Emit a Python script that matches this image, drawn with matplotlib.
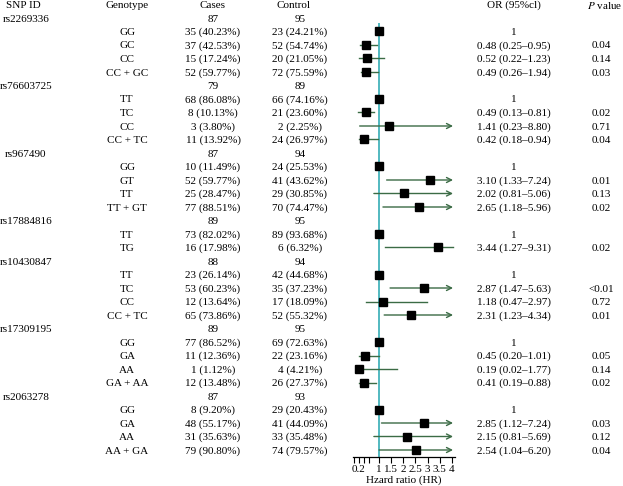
"""Forest plot of SNP genotype odds ratios with the case/control table beside it."""

import matplotlib

matplotlib.use("Agg")
import matplotlib.pyplot as plt
from matplotlib.transforms import blended_transform_factory

# --- data, one inner list per SNP -------------------------------------------
snp_ids = ["rs2269336", "rs76603725", "rs967490", "rs17884816",
           "rs10430847", "rs17309195", "rs2063278"]
snp_cases_total = [87, 79, 87, 89, 88, 89, 87]
snp_control_total = [95, 89, 94, 95, 94, 95, 93]

genotypes = [
    ["GG", "GC", "CC", "CC + GC"],
    ["TT", "TC", "CC", "CC + TC"],
    ["GG", "GT", "TT", "TT + GT"],
    ["TT", "TG"],
    ["TT", "TC", "CC", "CC + TC"],
    ["GG", "GA", "AA", "GA + AA"],
    ["GG", "GA", "AA", "AA + GA"],
]
case_counts = [[35, 37, 15, 52], [68, 8, 3, 11], [10, 52, 25, 77], [73, 16],
               [23, 53, 12, 65], [77, 11, 1, 12], [8, 48, 31, 79]]
case_pcts = [[40.23, 42.53, 17.24, 59.77], [86.08, 10.13, 3.80, 13.92],
             [11.49, 59.77, 28.47, 88.51], [82.02, 17.98],
             [26.14, 60.23, 13.64, 73.86], [86.52, 12.36, 1.12, 13.48],
             [9.20, 55.17, 35.63, 90.80]]
control_counts = [[23, 52, 20, 72], [66, 21, 2, 24], [24, 41, 29, 70], [89, 6],
                  [42, 35, 17, 52], [69, 22, 4, 26], [29, 41, 33, 74]]
control_pcts = [[24.21, 54.74, 21.05, 75.59], [74.16, 23.60, 2.25, 26.97],
                [25.53, 43.62, 30.85, 74.47], [93.68, 6.32],
                [44.68, 37.23, 18.09, 55.32], [72.63, 23.16, 4.21, 27.37],
                [20.43, 44.09, 35.48, 79.57]]

# OR column text as printed
or_labels = [
    ["1", "0.48 (0.25\u20130.95)", "0.52 (0.22\u20131.23)", "0.49 (0.26\u20131.94)"],
    ["1", "0.49 (0.13\u20130.81)", "1.41 (0.23\u20138.80)", "0.42 (0.18\u20130.94)"],
    ["1", "3.10 (1.33\u20137.24)", "2.02 (0.81\u20135.06)", "2.65 (1.18\u20135.96)"],
    ["1", "3.44 (1.27\u20139.31)"],
    ["1", "2.87 (1.47\u20135.63)", "1.18 (0.47\u20132.97)", "2.31 (1.23\u20134.34)"],
    ["1", "0.45 (0.20\u20131.01)", "0.19 (0.02\u20131.77)", "0.41 (0.19\u20130.88)"],
    ["1", "2.85 (1.12\u20137.24)", "2.15 (0.81\u20135.69)", "2.54 (1.04\u20136.20)"],
]
p_values = [
    ["", "0.04", "0.14", "0.03"],
    ["", "0.02", "0.71", "0.04"],
    ["", "0.01", "0.13", "0.02"],
    ["", "0.02"],
    ["", "<0.01", "0.72", "0.01"],
    ["", "0.05", "0.14", "0.02"],
    ["", "0.03", "0.12", "0.04"],
]

# plotted estimates, read off the drawn marks (None = reference, no interval)
odds = [[1, 0.48, 0.52, 0.49], [1, 0.49, 1.41, 0.42], [1, 3.10, 2.02, 2.65],
        [1, 3.44], [1, 2.87, 1.18, 2.31], [1, 0.45, 0.19, 0.41],
        [1, 2.85, 2.15, 2.54]]
ci_low = [[None, 0.25, 0.22, 0.28], [None, 0.15, 0.23, 0.2],
          [None, 1.33, 0.81, 1.18], [None, 1.27], [None, 1.47, 0.47, 1.23],
          [None, 0.2, 0.08, 0.2], [None, 1.12, 0.81, 1.02]]
ci_high = [[None, 0.95, 1.23, 0.98], [None, 0.81, 8.80, 0.98],
           [None, 7.24, 5.06, 5.96], [None, 9.31], [None, 5.63, 2.97, 4.34],
           [None, 1.01, 1.77, 0.88], [None, 7.24, 5.69, 6.20]]
no_arrow = {("rs17884816", "TG")}

x_ticks = [0, 0.2, 0.4, 0.6, 1, 1.5, 2, 2.5, 3, 3.5, 4]
x_tick_labels = ["", "0.2", "", "", "1", "1.5", "2", "2.5", "3", "3.5", "4"]

# --- layout (pixels of a 623 x 486 canvas) ----------------------------------
W, H = 623, 486
ROW0_PX, PITCH_PX = 18.0, 13.5          # centre of first data row, row pitch
AX_LEFT, AX_RIGHT, AX_TOP, AX_BOTTOM = 352.8, 454.5, 22.7, 457.0
X_MIN, X_MAX, ARROW_END = -0.05, 4.1, 4.04

COL_SNP, COL_GENO, COL_CASES, COL_CTRL = 26, 127, 213, 300
COL_CTRL_HEAD, COL_OR, COL_P, COL_P_HEAD = 294, 514, 601, 622

LINE_GREEN = "#3b6b45"
TEAL = "#35adb5"


def px_to_row(y_px):
    return 1 + (y_px - ROW0_PX) / PITCH_PX


plt.rcParams["font.family"] = ["Liberation Serif", "DejaVu Serif"]
plt.rcParams["mathtext.fontset"] = "stix"
plt.rcParams["font.size"] = 8

fig = plt.figure(figsize=(W / 100, H / 100), dpi=100)
ax = fig.add_axes([AX_LEFT / W, 1 - AX_BOTTOM / H,
                   (AX_RIGHT - AX_LEFT) / W, (AX_BOTTOM - AX_TOP) / H])
ax.set_xlim(X_MIN, X_MAX)
ax.set_ylim(px_to_row(AX_BOTTOM), px_to_row(AX_TOP))

tr = blended_transform_factory(fig.transFigure, ax.transData)


def put(x_px, row, s, ha="center", **kw):
    ax.text(x_px / W, row, s, transform=tr, ha=ha, va="center_baseline",
            clip_on=False, **kw)


# header row sits at row 0
put(COL_SNP - 3, 0, "SNP ID")
put(COL_GENO, 0, "Genotype")
put(COL_CASES, 0, "Cases")
put(COL_CTRL_HEAD, 0, "Control")
put(COL_OR, 0, "OR (95%cl)")
put(COL_P_HEAD, 0, "$P$ value", ha="right")

ax.axvline(1, color=TEAL, lw=1.2, zorder=1)

row = 1
for i, snp in enumerate(snp_ids):
    put(COL_SNP, row, snp)
    put(COL_CASES, row, str(snp_cases_total[i]))
    put(COL_CTRL, row, str(snp_control_total[i]))
    row += 1
    for j, geno in enumerate(genotypes[i]):
        put(COL_GENO, row, geno)
        put(COL_CASES, row, f"{case_counts[i][j]} ({case_pcts[i][j]:.2f}%)")
        put(COL_CTRL, row, f"{control_counts[i][j]} ({control_pcts[i][j]:.2f}%)")
        put(COL_OR, row, or_labels[i][j])
        if p_values[i][j]:
            put(COL_P, row, p_values[i][j])

        lo, hi = ci_low[i][j], ci_high[i][j]
        if lo is not None:
            if hi > X_MAX and (snp, geno) not in no_arrow:
                ax.annotate("", xy=(ARROW_END, row), xytext=(lo, row),
                            arrowprops=dict(arrowstyle="->", color=LINE_GREEN,
                                            lw=1.0, shrinkA=0, shrinkB=0,
                                            mutation_scale=9))
            else:
                ax.plot([lo, min(hi, ARROW_END)], [row, row],
                        color=LINE_GREEN, lw=1.0, zorder=2)
        ax.plot(odds[i][j], row, marker="s", color="black", ms=6,
                ls="none", zorder=3)
        row += 1

for side in ("left", "right", "top"):
    ax.spines[side].set_visible(False)
ax.spines["bottom"].set_linewidth(0.9)
ax.set_yticks([])
ax.set_xticks(x_ticks)
ax.set_xticklabels(x_tick_labels)
ax.tick_params(axis="x", length=4, width=0.8, pad=1.5, labelsize=8)
ax.set_xlabel("Hzard ratio (HR)", fontsize=8, labelpad=1)

fig.savefig("out.png", dpi=100)
